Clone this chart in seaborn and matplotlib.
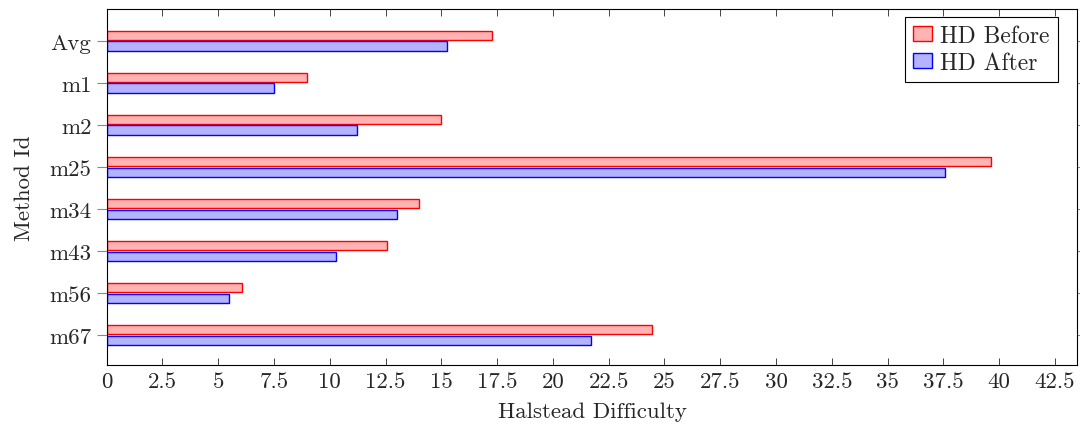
import numpy as np
import pandas as pd
import matplotlib
matplotlib.use("Agg")
import matplotlib.pyplot as plt
import seaborn as sns

methods = ["Avg", "m1", "m2", "m25", "m34", "m43", "m56", "m67"]
hd_before = [17.25, 9.0, 15.0, 39.63, 14.0, 12.58, 6.05, 24.43]
hd_after = [15.26, 7.5, 11.24, 37.57, 13.0, 10.29, 5.5, 21.72]
series = ["HD Before", "HD After"]
x_ticks = np.arange(0, 43, 2.5)

df = pd.DataFrame({
    "method": methods * 2,
    "value": hd_before + hd_after,
    "series": [series[0]] * len(methods) + [series[1]] * len(methods),
})

sns.set_style("ticks")
plt.rcParams["font.family"] = ["serif"]
plt.rcParams["font.serif"] = ["cmr10", "DejaVu Serif"]
plt.rcParams["mathtext.fontset"] = "cm"
plt.rcParams["axes.formatter.use_mathtext"] = True

fig = plt.figure(figsize=(10.8, 4.27), dpi=100)
ax = fig.add_axes([0.0988, 0.143, 0.8986, 0.834])

fills = {"HD Before": "#ffb3b3", "HD After": "#b3b3ff"}
edges = ["red", "blue"]
sns.barplot(data=df, y="method", x="value", hue="series", orient="h",
            palette=fills, width=0.5, gap=0.12, saturation=1,
            linewidth=1.0, ax=ax)

# outline each series in its strong colour
for cont, ec in zip(ax.containers, edges):
    for bar in cont:
        bar.set_edgecolor(ec)

ax.set_xlim(0, 43.5)
ax.set_ylim(7.71, -0.76)
ax.set_xticks(x_ticks)
ax.set_xticklabels([f"{t:g}" for t in x_ticks])
ax.tick_params(axis="x", direction="in", top=True, labelsize=16.5, length=5,
               width=0.6, pad=5)
ax.tick_params(axis="y", direction="out", right=True, labelsize=16.5,
               length=7, width=0.8, color="#888888", pad=4)
for s in ax.spines.values():
    s.set_visible(True)
    s.set_linewidth(0.8)
    s.set_color("black")

ax.set_xlabel("Halstead Difficulty", fontsize=16.5, labelpad=7)
ax.set_ylabel("Method Id", fontsize=16.5, labelpad=11)

handles, labels = ax.get_legend_handles_labels()
for h, ec in zip(handles, edges):
    h.set_edgecolor(ec)
leg = ax.legend(handles, labels, loc="upper right", fontsize=17,
                fancybox=False, framealpha=1, edgecolor="black",
                handlelength=0.8, handleheight=0.6, borderpad=0.35,
                labelspacing=0.2, handletextpad=0.35, borderaxespad=0,
                bbox_to_anchor=(0.980, 0.978))
leg.get_frame().set_linewidth(0.8)

fig.savefig("out.png", dpi=100)
